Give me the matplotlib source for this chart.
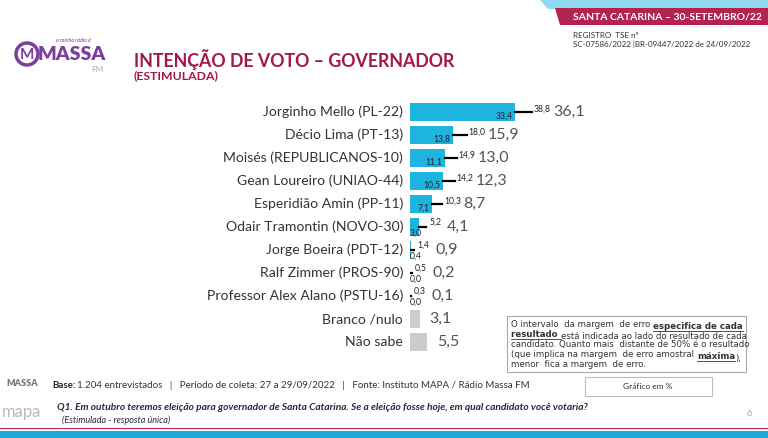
import matplotlib.pyplot as plt
from matplotlib.patches import Polygon, Rectangle, Circle

plt.rcParams['font.family'] = ['Lato', 'DejaVu Sans']

# data
candidates = ["Jorginho Mello (PL-22)", "Décio Lima (PT-13)", "Moisés (REPUBLICANOS-10)",
              "Gean Loureiro (UNIAO-44)", "Esperidião Amin (PP-11)", "Odair Tramontin (NOVO-30)",
              "Jorge Boeira (PDT-12)", "Ralf Zimmer (PROS-90)", "Professor Alex Alano (PSTU-16)"]
others = ["Branco /nulo", "Não sabe"]
point = [36.1, 15.9, 13.0, 12.3, 8.7, 4.1, 0.9, 0.2, 0.1]
low = [33.4, 13.8, 11.1, 10.5, 7.1, 3.0, 0.4, 0.0, 0.0]
high = [38.8, 18.0, 14.9, 14.2, 10.3, 5.2, 1.4, 0.5, 0.3]
others_vals = [3.1, 5.5]

def br(v):
    return f"{v:.1f}".replace(".", ",")

W, H = 768, 438
fig = plt.figure(figsize=(W / 100, H / 100), dpi=100)

# background axes in pixel coordinates
bg = fig.add_axes([0, 0, 1, 1])
bg.set_xlim(0, W)
bg.set_ylim(H, 0)
bg.axis('off')

pink = '#B3234F'
cyan = '#1DB4E0'
title_col = '#A3174E'

# top right banner
bg.add_patch(Polygon([(540, 0), (768, 0), (768, 9), (548, 9)], closed=True, color='#8FD8EE', lw=0))
bg.add_patch(Polygon([(555, 8), (768, 8), (768, 25), (560, 25)], closed=True, color=pink, lw=0))
bg.text(667, 16.5, "SANTA CATARINA – 30-SETEMBRO/22", color='white', fontsize=7.5,
        fontweight='bold', ha='center', va='center')
bg.text(573, 35, "REGISTRO  TSE nº", fontsize=5.8, color='#333333', va='center')
bg.text(573, 44, "SC-07586/2022 |BR-09447/2022 de 24/09/2022", fontsize=5.8, color='#333333', va='center')

# logo
purple = '#7A3E9D'
bg.add_patch(Circle((27, 54), 11, fill=False, ec=purple, lw=2.5))
bg.text(27, 55, "M", color=purple, fontsize=11, fontweight='bold', ha='center', va='center')
bg.text(73, 40, "a minha rádio é", color=purple, fontsize=4, style='italic', ha='center', va='center')
bg.text(72, 55, "MASSA", color=purple, fontsize=14, fontweight='heavy', ha='center', va='center')
bg.text(97, 69, "FM", color='#B9A7C7', fontsize=6, ha='center', va='center')

# title
bg.text(134, 60, "INTENÇÃO DE VOTO – GOVERNADOR", color=title_col, fontsize=12.8,
        fontweight='bold', va='center')
bg.text(134, 76, "(ESTIMULADA)", color=title_col, fontsize=8.8, fontweight='bold', va='center')

# chart axes
ax = fig.add_axes([410 / W, 1 - 353.5 / H, 315 / W, 253 / H])
ax.set_xlim(0, 100)
ax.set_ylim(10.5, -0.5)
ax.axis('off')

n = len(candidates)
ys = list(range(n))
ax.barh(ys, low, height=0.82, color=cyan, zorder=1)
for y, lo, hi, p in zip(ys, low, high, point):
    ax.plot([lo, hi], [y, y], color='black', lw=1.6, zorder=2)
    if lo > 4:
        ax.annotate(br(lo), (lo, y), xytext=(-2, -3), textcoords='offset points',
                    ha='right', va='center', fontsize=6.2, color='#222222')
        ax.annotate(br(hi), (hi, y), xytext=(1, 2), textcoords='offset points',
                    ha='left', va='center', fontsize=6.2, color='#222222')
    else:
        ax.annotate(br(lo), (0, y), xytext=(0, -4.5), textcoords='offset points',
                    ha='left', va='center', fontsize=6.2, color='#222222')
        ax.annotate(br(hi), (hi, y), xytext=(2, 3.5), textcoords='offset points',
                    ha='left', va='center', fontsize=6.2, color='#222222')
    ax.annotate(br(p), (hi, y), xytext=(15, 0), textcoords='offset points',
                ha='left', va='center', fontsize=11.5, color='#555555')

ys2 = [n + i for i in range(len(others))]
ax.barh(ys2, others_vals, height=0.82, color='#CCCCCC')
for y, v in zip(ys2, others_vals):
    ax.annotate(br(v), (v, y), xytext=(7, 0), textcoords='offset points',
                ha='left', va='center', fontsize=11.5, color='#555555')

for y, lab in zip(ys + ys2, candidates + others):
    ax.text(-2.2, y, lab, ha='right', va='center', fontsize=10.1, color='#333333')

# note box
bg.add_patch(Rectangle((507, 316), 239, 56, fill=False, ec='#AAAAAA', lw=0.8))
note_fs = 6.2
note_lines = [
    [("O intervalo  da margem  de erro ", False), ("especifica de cada", True)],
    [("resultado ", True), ("está indicada ao lado do resultado de cada", False)],
    [("candidato. Quanto mais  distante de 50% é o resultado", False)],
    [("(que implica na margem  de erro amostral ", False), ("máxima", True), ("),", False)],
    [("menor  fica a margem  de erro.", False)],
]
underlined = []
for i, parts in enumerate(note_lines):
    prev = None
    for txt, bold in parts:
        kw = dict(fontsize=note_fs, color='#333333', fontweight='bold' if bold else 'normal',
                  va='baseline', family='DejaVu Sans')
        if prev is None:
            t = bg.text(511, 327 + i * 10, txt, ha='left', **kw)
        else:
            t = bg.annotate(txt, xy=(1, 0), xycoords=prev, ha='left', **kw)
        if bold:
            underlined.append(t)
        prev = t

# footer
bg.text(52, 386, "Base:", fontsize=7, fontweight='bold', color='#222222', va='center')
bg.text(77, 386, "1.204 entrevistados   |   Período de coleta: 27 a 29/09/2022   |   Fonte: Instituto MAPA / Rádio Massa FM",
        fontsize=7, color='#333333', va='center')
bg.add_patch(Rectangle((585, 377), 127, 19, fill=False, ec='#BBBBBB', lw=0.8))
bg.text(648, 386.5, "Gráfico em %", fontsize=6, color='#333333', ha='center', va='center')
bg.text(57, 408, "Q1. Em outubro teremos eleição para governador de Santa Catarina. Se a eleição fosse hoje, em qual candidato você votaria?",
        fontsize=7.3, fontweight='bold', style='italic', color='#1F2A44', va='center')
bg.text(62, 420, "(Estimulada - resposta única)", fontsize=6.5, style='italic', color='#1F2A44', va='center')
bg.text(749, 414, "6", fontsize=7, color='#AAAAAA', ha='center', va='center')

# bottom left logos
bg.text(22, 383, "MASSA", fontsize=6.5, fontweight='heavy', color='#777777', ha='center', va='center')
bg.text(22, 412, "mapa", fontsize=12, color='#BBBBBB', ha='center', va='center')

# bottom stripes
bg.add_patch(Rectangle((0, 427.5), W, 1.5, color=pink, lw=0))
bg.add_patch(Rectangle((0, 429), W, 2, color='#E8F4FA', lw=0))
bg.add_patch(Rectangle((0, 431), W, 7, color='#1FA8DA', lw=0))

# underline bold note parts
fig.canvas.draw()
r = fig.canvas.get_renderer()
inv = bg.transData.inverted()
for t in underlined:
    bb = t.get_window_extent(r)
    (x0, y0), (x1, _) = inv.transform([(bb.x0, bb.y0), (bb.x1, bb.y0)])
    bg.plot([x0, x1], [y0 - 0.2, y0 - 0.2], color='#333333', lw=0.6)

fig.savefig("out.png", dpi=100)
